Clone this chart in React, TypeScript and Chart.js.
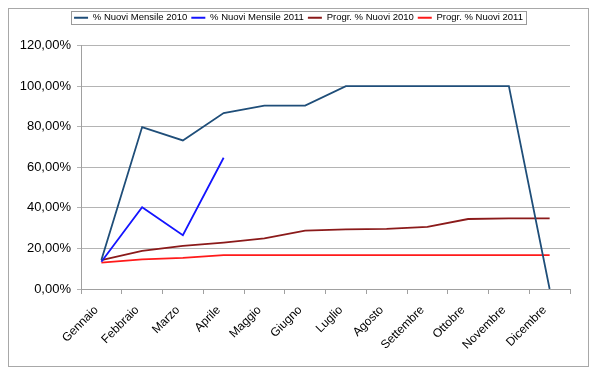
import React, { useEffect, useRef } from "react";
import { Chart, registerables } from "chart.js";

Chart.register(...registerables);

const months = [
  "Gennaio", "Febbraio", "Marzo", "Aprile", "Maggio", "Giugno",
  "Luglio", "Agosto", "Settembre", "Ottobre", "Novembre", "Dicembre",
];
const nuoviMensile2010 = [14.3, 79.8, 73.2, 86.7, 90.4, 90.4, 100, 100, 100, 100, 100, 0];
const nuoviMensile2011 = [13.4, 40.3, 26.5, 64.7];
const progr2010 = [14.2, 18.8, 21.3, 22.9, 24.9, 28.8, 29.4, 29.6, 30.6, 34.5, 34.8, 34.8];
const progr2011 = [13.0, 14.6, 15.3, 16.7, 16.7, 16.7, 16.7, 16.7, 16.7, 16.7, 16.7, 16.7];
const seriesNames = ["% Nuovi Mensile 2010", "% Nuovi Mensile 2011", "Progr. % Nuovi 2010", "Progr. % Nuovi 2011"];
const seriesColors = ["#1f4e79", "#1414ff", "#8b1a1a", "#ff1a1a"];
const yTicks = [0, 20, 40, 60, 80, 100, 120];

const FONT = "Arial, 'Liberation Sans', sans-serif";
const LEGEND_EXTRA = 13;

const legendBox = {
  id: "legendBox",
  afterInit(chart: any) {
    const lg = chart.legend;
    if (lg && !lg._extraPatched) {
      const orig = lg.fit;
      lg.fit = function (this: any) {
        orig.call(this);
        this.height += LEGEND_EXTRA;
      };
      lg._extraPatched = true;
    }
  },
  afterDraw(chart: any) {
    const lg = chart.legend;
    if (!lg || !lg.legendHitBoxes || !lg.legendHitBoxes.length) return;
    const boxes = lg.legendHitBoxes;
    let l = Infinity, r = -Infinity, t = Infinity, b = -Infinity;
    for (const h of boxes) {
      l = Math.min(l, h.left);
      r = Math.max(r, h.left + h.width);
      t = Math.min(t, h.top);
      b = Math.max(b, h.top + h.height);
    }
    const ctx = chart.ctx;
    ctx.save();
    ctx.strokeStyle = "#9a9a9a";
    ctx.lineWidth = 1;
    ctx.strokeRect(Math.round(l - 3) + 0.5, Math.round(t - 2) + 0.5, Math.round(r - l + 6), Math.round(b - t + 3));
    ctx.restore();
  },
};

export default function App() {
  const ref = useRef<HTMLCanvasElement>(null);
  useEffect(() => {
    if (!ref.current) return;
    const datasets = [nuoviMensile2010, nuoviMensile2011, progr2010, progr2011].map((d, i) => ({
      label: seriesNames[i],
      data: d,
      borderColor: seriesColors[i],
      backgroundColor: seriesColors[i],
      borderWidth: 1.8,
      pointRadius: 0,
      tension: 0,
      fill: false,
      yAxisID: "y",
    }));
    const chart = new Chart(ref.current, {
      type: "line",
      data: { labels: months, datasets },
      plugins: [legendBox],
      options: {
        animation: false,
        responsive: false,
        maintainAspectRatio: false,
        layout: { padding: { left: 0, right: 0, top: 0, bottom: 0 } },
        plugins: {
          tooltip: { enabled: false },
          legend: {
            display: true,
            position: "top",
            labels: {
              usePointStyle: true,
              pointStyle: "line",
              pointStyleWidth: 14,
              boxHeight: 9,
              padding: 4,
              color: "#000",
              font: { family: FONT, size: 9.5 },
            },
          },
        },
        scales: {
          x: {
            offset: true,
            grid: {
              display: true,
              offset: true,
              drawOnChartArea: false,
              drawTicks: true,
              tickLength: 5,
              color: "#a0a0a0",
            },
            border: { color: "#a0a0a0" },
            ticks: {
              minRotation: 45,
              maxRotation: 45,
              autoSkip: false,
              padding: 9,
              labelOffset: -5,
              color: "#000",
              font: { family: FONT, size: 12 },
            },
            afterFit(scale: any) {
              scale.height = 77;
            },
          },
          y: {
            min: 0,
            max: 120,
            afterBuildTicks(scale: any) {
              scale.ticks = yTicks.map((v) => ({ value: v }));
            },
            grid: {
              color: "#b4b4b4",
              tickLength: 4,
              lineWidth: 1,
            },
            border: { color: "#a0a0a0" },
            ticks: {
              padding: 6,
              color: "#000",
              font: { family: FONT, size: 13 },
              callback: (v: any) => Number(v).toFixed(2).replace(".", ",") + "%",
            },
            afterFit(scale: any) {
              scale.width = 72;
            },
          },
          spacer: {
            type: "linear",
            position: "right",
            display: true,
            grid: { display: false },
            border: { display: false },
            ticks: { display: false },
            afterFit(scale: any) {
              scale.width = 18;
            },
          },
        },
      },
    });
    return () => chart.destroy();
  }, []);
  return (
    <div
      style={{
        width: 581,
        height: 359,
        border: "1px solid #a8a8a8",
        boxSizing: "border-box",
        background: "#fff",
      }}
    >
      <canvas ref={ref} width={579} height={357} style={{ display: "block" }} />
    </div>
  );
}
